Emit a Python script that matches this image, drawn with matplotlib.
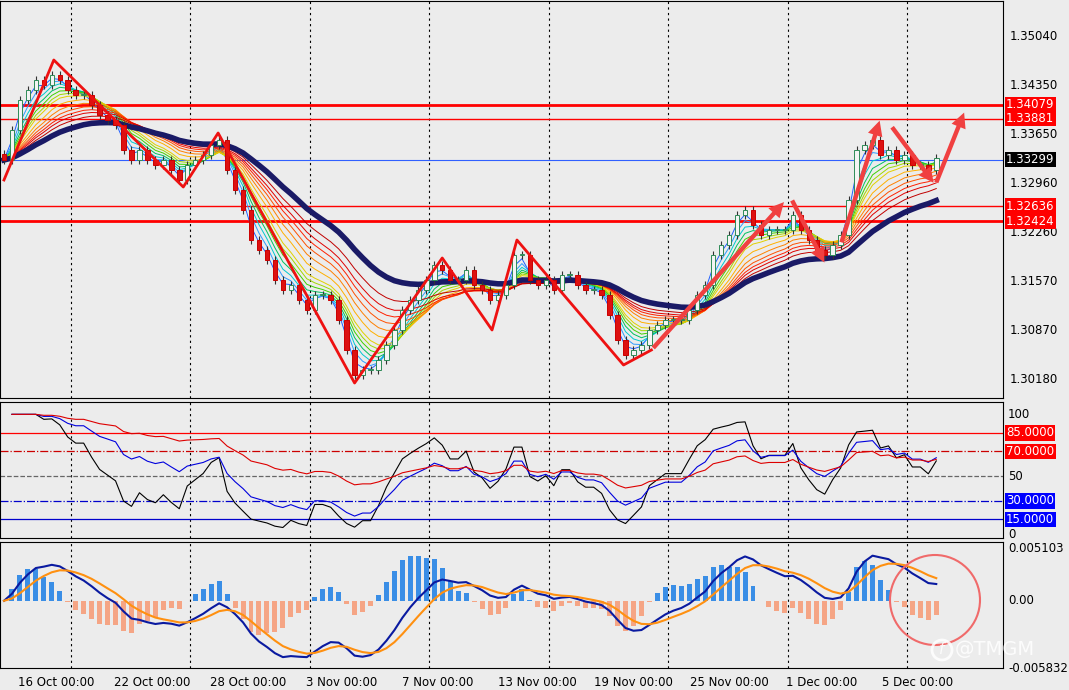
import matplotlib.pyplot as plt
import numpy as np
import pandas as pd
from matplotlib.patches import Ellipse

plt.rcParams.update({"font.family": "DejaVu Sans", "font.size": 9})

W, H = 1069, 690
BG = "#ececec"
BAR_STEP = 8  # px per candle

close_px = [160, 130, 100, 90, 80, 85, 75, 80, 90, 95, 95, 105, 115, 120, 125, 150,
            160, 150, 160, 165, 160, 170, 180, 165, 160, 155, 145, 140, 170, 190, 210,
            240, 250, 260, 280, 290, 285, 300, 310, 295, 295, 300, 320, 350, 375, 370,
            370, 360, 345, 330, 310, 300, 290, 280, 265, 270, 280, 280, 270, 285, 290,
            300, 295, 285, 255, 255, 280, 285, 280, 290, 275, 275, 285, 290, 290, 295,
            315, 340, 355, 350, 345, 330, 325, 320, 320, 320, 310, 295, 285, 255, 245,
            235, 215, 210, 225, 235, 230, 230, 230, 215, 230, 240, 250, 255, 245, 235,
            200, 150, 145, 140, 155, 150, 160, 155, 165, 165, 170, 158]

def px2price(y):
    return 1.35040 - (y - 37) * (0.04860 / 342)

closes = np.array([px2price(y) for y in close_px])
opens = np.r_[closes[0] + 0.0008, closes[:-1]]
wick = 0.0006
highs = np.maximum(opens, closes) + wick
lows = np.minimum(opens, closes) - wick
xs = np.arange(len(closes)) * BAR_STEP

# zigzag / arrows (pixel rows -> price, x in px)
zig_x = [0, 50, 180, 215, 352, 440, 490, 515, 622, 650]
zig_y = [180, 60, 187, 133, 383, 258, 330, 240, 365, 350]
arrows = [(650, 350, 785, 200), (790, 198, 825, 265), (840, 245, 880, 118),
          (890, 125, 935, 185), (935, 185, 965, 110)]

hlines = [(1.34079, "#ff0000", 2.0, "1.34079"), (1.33881, "#ff0000", 1.0, "1.33881"),
          (1.33299, "#3060ff", 0.8, "1.33299"), (1.32636, "#ff0000", 1.0, "1.32636"),
          (1.32424, "#ff0000", 2.0, "1.32424")]
price_ticks = [1.35040, 1.34350, 1.33650, 1.32960, 1.32260, 1.31570, 1.30870, 1.30180]

date_labels = ["16 Oct 00:00", "22 Oct 00:00", "28 Oct 00:00", "3 Nov 00:00", "7 Nov 00:00",
               "13 Nov 00:00", "19 Nov 00:00", "25 Nov 00:00", "1 Dec 00:00", "5 Dec 00:00"]
grid_x = [67, 187, 307, 427, 547, 667, 787, 907]

ribbon_periods = [2, 3, 4, 5, 6, 7, 8, 10, 12, 14, 16, 18, 21]
ribbon_colors = ["#1f5fff", "#2d9bff", "#00c8d0", "#00c060", "#40d000", "#a0d800", "#e0d000",
                 "#ffb000", "#ff8000", "#ff5000", "#ff2000", "#e00000", "#c00000"]

s = pd.Series(closes)


def rsi(series, n):
    d = series.diff()
    up = d.clip(lower=0).ewm(alpha=1 / n, adjust=False).mean()
    dn = (-d.clip(upper=0)).ewm(alpha=1 / n, adjust=False).mean()
    return 100 - 100 / (1 + up / dn.replace(0, 1e-9))


fig = plt.figure(figsize=(W / 100, H / 100), dpi=100, facecolor=BG)


def ax_at(top, bottom):
    a = fig.add_axes([0, (H - bottom) / H, 1003 / W, (bottom - top) / H], facecolor=BG)
    a.set_xlim(-4, 1003)
    a.set_xticks([])
    a.set_yticks([])
    for sp in a.spines.values():
        sp.set_color("black")
    for gx in grid_x:
        a.axvline(gx, color="black", ls=(0, (2, 3)), lw=0.8, zorder=0)
    return a


# ---- price panel
ax = ax_at(1, 398)
ax.set_ylim(px2price(398), px2price(1))
for p, c, lw, _ in hlines:
    ax.axhline(p, color=c, lw=lw, zorder=1)
for n, c in zip(ribbon_periods, ribbon_colors):
    ax.plot(xs, s.ewm(span=n, adjust=False).mean(), color=c, lw=0.7, zorder=2)
ax.plot(xs, s.ewm(span=28, adjust=False).mean(), color="#1a1a66", lw=4, zorder=3)
for x, o, c, h, l in zip(xs, opens, closes, highs, lows):
    col = "#cc0000" if c < o else "#2e8b57"
    ax.vlines(x, l, h, color="#333333", lw=0.8, zorder=4)
    ax.bar(x, max(abs(c - o), 0.00008), bottom=min(o, c), width=4.5,
           color="#dd1111" if c < o else "#f4f4f4", edgecolor=col, lw=0.7, zorder=5)
ax.plot(zig_x, [px2price(y) for y in zig_y], color="#ee1111", lw=2, zorder=6)
for x0, y0, x1, y1 in arrows:
    ax.annotate("", xy=(x1, px2price(y1)), xytext=(x0, px2price(y0)), zorder=7,
                arrowprops=dict(arrowstyle="simple,head_length=1.2,head_width=1.2,tail_width=0.35",
                                color="#f04040", lw=0))
for p in price_ticks:
    y = (p - px2price(398)) / (px2price(1) - px2price(398)) * 397 + (H - 398)
    fig.text(1010 / W, y / H, f"{p:.5f}", fontsize=8.5, va="center")
for p, c, _, lab in hlines:
    y = (p - px2price(398)) / (px2price(1) - px2price(398)) * 397 + (H - 398)
    fc = "black" if c != "#ff0000" else "#ff0000"
    fig.text(1006 / W, y / H, lab, fontsize=8.5, va="center", color="white",
             bbox=dict(boxstyle="square,pad=0.12", fc=fc, ec="none"))

# ---- RSI panel
ar = ax_at(402, 538)
ar.set_ylim(0, 110)
for lvl, c, ls in [(85, "#ff0000", "-"), (70, "#cc0000", "-."), (50, "#666666", "--"),
                   (30, "#0000cc", "-."), (15, "#0000cc", "-")]:
    ar.axhline(lvl, color=c, ls=ls, lw=0.9)
ar.plot(xs, rsi(s, 6), color="black", lw=0.8)
ar.plot(xs, rsi(s, 12), color="#0000dd", lw=0.8)
ar.plot(xs, rsi(s, 24), color="#dd0000", lw=0.8)


def rsi_y(v):
    return (H - 538 + v / 110 * 136) / H


for v, dy in ((100, 0), (50, 0), (0, 4)):
    fig.text(1008 / W, rsi_y(v) + dy / H, str(v), fontsize=8.5, va="center")
for v, fc in [(85, "#ff0000"), (70, "#ff0000"), (30, "#0000ff"), (15, "#0000ff")]:
    fig.text(1006 / W, rsi_y(v), f"{v:.4f}", fontsize=8.5, va="center", color="white",
             bbox=dict(boxstyle="square,pad=0.12", fc=fc, ec="none"))

# ---- MACD panel
am = ax_at(542, 668)
lo, hi = -0.005832, 0.005103
am.set_ylim(lo, hi)
macd = s.ewm(span=6, adjust=False).mean() - s.ewm(span=13, adjust=False).mean()
sig = macd.ewm(span=5, adjust=False).mean()
hist = 2.5 * (macd - sig)
am.bar(xs, hist, width=5, color=np.where(hist >= 0, "#3a8ee6", "#f5a585"))
am.plot(xs, macd, color="#0a1aa0", lw=1.5)
am.plot(xs, sig, color="#ff9010", lw=1.5)


def macd_y(v):
    return (22 + (v - lo) / (hi - lo) * 126) / H


for v, lab, dy in [(hi, "0.005103", -6), (0, "0.00", 0), (lo, "-0.005832", 0)]:
    fig.text(1008 / W, macd_y(v) + dy / H, lab, fontsize=8.5, va="center")
for k, lab in enumerate(date_labels):
    fig.text((18 + 96 * k) / W, 7 / H, lab, fontsize=8.5, va="center")

fig.add_artist(Ellipse((935 / W, (H - 600) / H), 90 / W, 90 / H, transform=fig.transFigure,
                       fill=False, ec="#f06a6a", lw=1.5))
fig.add_artist(Ellipse((942 / W, 40 / H), 20 / W, 20 / H, transform=fig.transFigure,
                       fill=False, ec="white", lw=2, alpha=0.85))
fig.text(942 / W, 40 / H, "f", fontsize=11, color="white", alpha=0.85, ha="center",
         va="center", style="italic")
fig.text(955 / W, 40 / H, "@TMGM", fontsize=14, color="white", alpha=0.85, va="center")

fig.savefig("out.png", dpi=100, facecolor=BG)
